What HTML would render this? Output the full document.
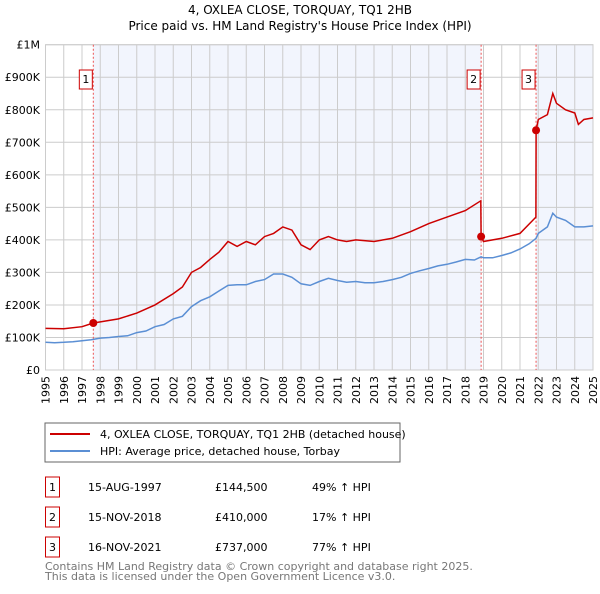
<!DOCTYPE html>
<html><head><meta charset="utf-8"><style>
body{margin:0;background:#fff;font-family:"DejaVu Sans","Liberation Sans",sans-serif;}
svg text{font-family:"DejaVu Sans","Liberation Sans",sans-serif;}
</style></head><body>
<svg id="c" width="600" height="590" viewBox="0 0 600 590" xmlns="http://www.w3.org/2000/svg">
<text x="300" y="14" text-anchor="middle" font-size="12">4, OXLEA CLOSE, TORQUAY, TQ1 2HB</text>
<text x="300" y="30" text-anchor="middle" font-size="12">Price paid vs. HM Land Registry's House Price Index (HPI)</text>
<g id="plot"></g>
<rect x="45" y="423" width="355" height="39" fill="#fff" stroke="#666"/>
<line x1="50" y1="434" x2="90" y2="434" stroke="#cc0000" stroke-width="2"/>
<text x="100" y="438" font-size="11">4, OXLEA CLOSE, TORQUAY, TQ1 2HB (detached house)</text>
<line x1="50" y1="451" x2="90" y2="451" stroke="#5b8fd4" stroke-width="2"/>
<text x="100" y="455" font-size="11">HPI: Average price, detached house, Torbay</text>
<g id="tbl" font-size="11"></g>
<text x="45" y="570" font-size="11" fill="#777">Contains HM Land Registry data © Crown copyright and database right 2025.</text>
<text x="45" y="580" font-size="11" fill="#777">This data is licensed under the Open Government Licence v3.0.</text>
</svg>
<script>
const hpiYears=[1995,1995.5,1996,1996.5,1997,1997.5,1998,1998.5,1999,1999.5,2000,2000.5,2001,2001.5,2002,2002.5,2003,2003.5,2004,2004.5,2005,2005.5,2006,2006.5,2007,2007.5,2008,2008.5,2009,2009.5,2010,2010.5,2011,2011.5,2012,2012.5,2013,2013.5,2014,2014.5,2015,2015.5,2016,2016.5,2017,2017.5,2018,2018.5,2018.87,2019,2019.5,2020,2020.5,2021,2021.5,2021.88,2022,2022.5,2022.8,2023,2023.5,2024,2024.5,2025];
const hpiValues=[85,84,85,87,90,93,98,100,103,105,115,120,133,140,157,165,195,213,225,243,260,262,262,272,278,295,295,285,265,260,272,282,275,270,272,268,268,272,278,285,297,305,312,320,325,332,340,338,348,345,345,352,360,372,388,405,420,440,482,470,460,440,440,443];
const priceYears=[1995,1996,1997,1997.62,1998,1999,2000,2001,2002,2002.5,2003,2003.5,2004,2004.5,2005,2005.5,2006,2006.5,2007,2007.5,2008,2008.5,2009,2009.5,2010,2010.5,2011,2011.5,2012,2013,2014,2015,2016,2017,2018,2018.85,2018.87,2019,2020,2021,2021.87,2021.88,2022,2022.5,2022.8,2023,2023.5,2024,2024.2,2024.5,2025];
const priceValues=[128,127,133,144.5,148,157,175,200,235,255,300,315,340,362,395,380,395,385,410,420,440,430,385,370,400,410,400,395,400,395,405,425,450,470,490,520,410,395,405,420,470,737,770,785,850,820,800,790,755,770,775];
const saleYears=[1997.62,2018.87,2021.88];
const saleValues=[144.5,410,737];
const saleLabels=["1","2","3"];
const saleDates=["15-AUG-1997","15-NOV-2018","16-NOV-2021"];
const salePrices=["£144,500","£410,000","£737,000"];
const saleHpi=["49% ↑ HPI","17% ↑ HPI","77% ↑ HPI"];
const yTicks=[0,100,200,300,400,500,600,700,800,900,1000];
const yTickLabels=["£0","£100K","£200K","£300K","£400K","£500K","£600K","£700K","£800K","£900K","£1M"];
const xTicks=[1995,1996,1997,1998,1999,2000,2001,2002,2003,2004,2005,2006,2007,2008,2009,2010,2011,2012,2013,2014,2015,2016,2017,2018,2019,2020,2021,2022,2023,2024,2025];

const X0=45.5,X1=593,Y0=370,Y1=44.7;
const xs=y=>X0+(y-1995)/30*(X1-X0);
const ys=v=>Y0-v/1000*(Y0-Y1);
const NS="http://www.w3.org/2000/svg";
const g=document.getElementById('plot');
function mk(t,a,p){const e=document.createElementNS(NS,t);for(const k in a)e.setAttribute(k,a[k]);(p||g).appendChild(e);return e;}
// shading
let s1=mk('rect',{x:xs(saleYears[0]),y:Y1,width:xs(saleYears[1])-xs(saleYears[0]),height:Y0-Y1,fill:'#f2f5fd'});


let s2=mk('rect',{x:xs(saleYears[2]),y:Y1,width:X1-xs(saleYears[2]),height:Y0-Y1,fill:'#f2f5fd'});


yTicks.forEach((v,i)=>{
 let l=mk('line',{x1:X0,x2:X1,y1:ys(v),y2:ys(v),stroke:'#ccc'});
 
 
 let t=mk('text',{x:40,y:ys(v)+4,'text-anchor':'end','font-size':11});
 
 
 t.textContent=yTickLabels[i];
});
xTicks.forEach(yr=>{
 let l=mk('line',{x1:xs(yr),x2:xs(yr),y1:Y1,y2:Y0,stroke:'#ccc'});
 
 
 let t=mk('text',{transform:`translate(${xs(yr)+4},${Y0+6}) rotate(-90)`,'text-anchor':'end','font-size':11});
 
 
 t.textContent=yr;
});
let fr=mk('rect',{x:X0,y:Y1,width:X1-X0,height:Y0-Y1,fill:'none',stroke:'#ccc'});


saleYears.forEach((yr,i)=>{
 let l=mk('line',{x1:xs(yr),x2:xs(yr),y1:Y1,y2:Y0,stroke:'#e55','stroke-dasharray':'2,2','stroke-width':1});
 
 
 let b=mk('rect',{x:xs(yr)-14,y:70,width:13,height:19,fill:'#fff',stroke:'#cc0000'});
 
 
 let t=mk('text',{x:xs(yr)-7.5,y:83,'text-anchor':'middle','font-size':11});
 
 
 t.textContent=saleLabels[i];
});
const pts=(xa,va)=>xa.map((x,i)=>xs(x).toFixed(1)+','+ys(va[i]).toFixed(1)).join(' ');
let h=mk('polyline',{points:pts(hpiYears,hpiValues),fill:'none',stroke:'#5b8fd4','stroke-width':1.5});


let p=mk('polyline',{points:pts(priceYears,priceValues),fill:'none',stroke:'#cc0000','stroke-width':1.5});


saleYears.forEach((yr,i)=>{
 let c=mk('circle',{cx:xs(yr),cy:ys(saleValues[i]),r:4,fill:'#cc0000'});
 
 
});
const tb=document.getElementById('tbl');
saleLabels.forEach((lb,i)=>{
 const y=483+i*30;
 let b=mk('rect',{x:45.5,y:y-6,width:14,height:20,fill:'#fff',stroke:'#cc0000'},tb);
 
 
 const cols=[[52.5,lb,'middle'],[88,saleDates[i],'start'],[215,salePrices[i],'start'],[312,saleHpi[i],'start']];
 cols.forEach(([x,tx,a],j)=>{
  let t=mk('text',{x:x,y:y+8,'text-anchor':a},tb);
  
  
  t.textContent=tx;
 });
});
</script>
</body></html>
